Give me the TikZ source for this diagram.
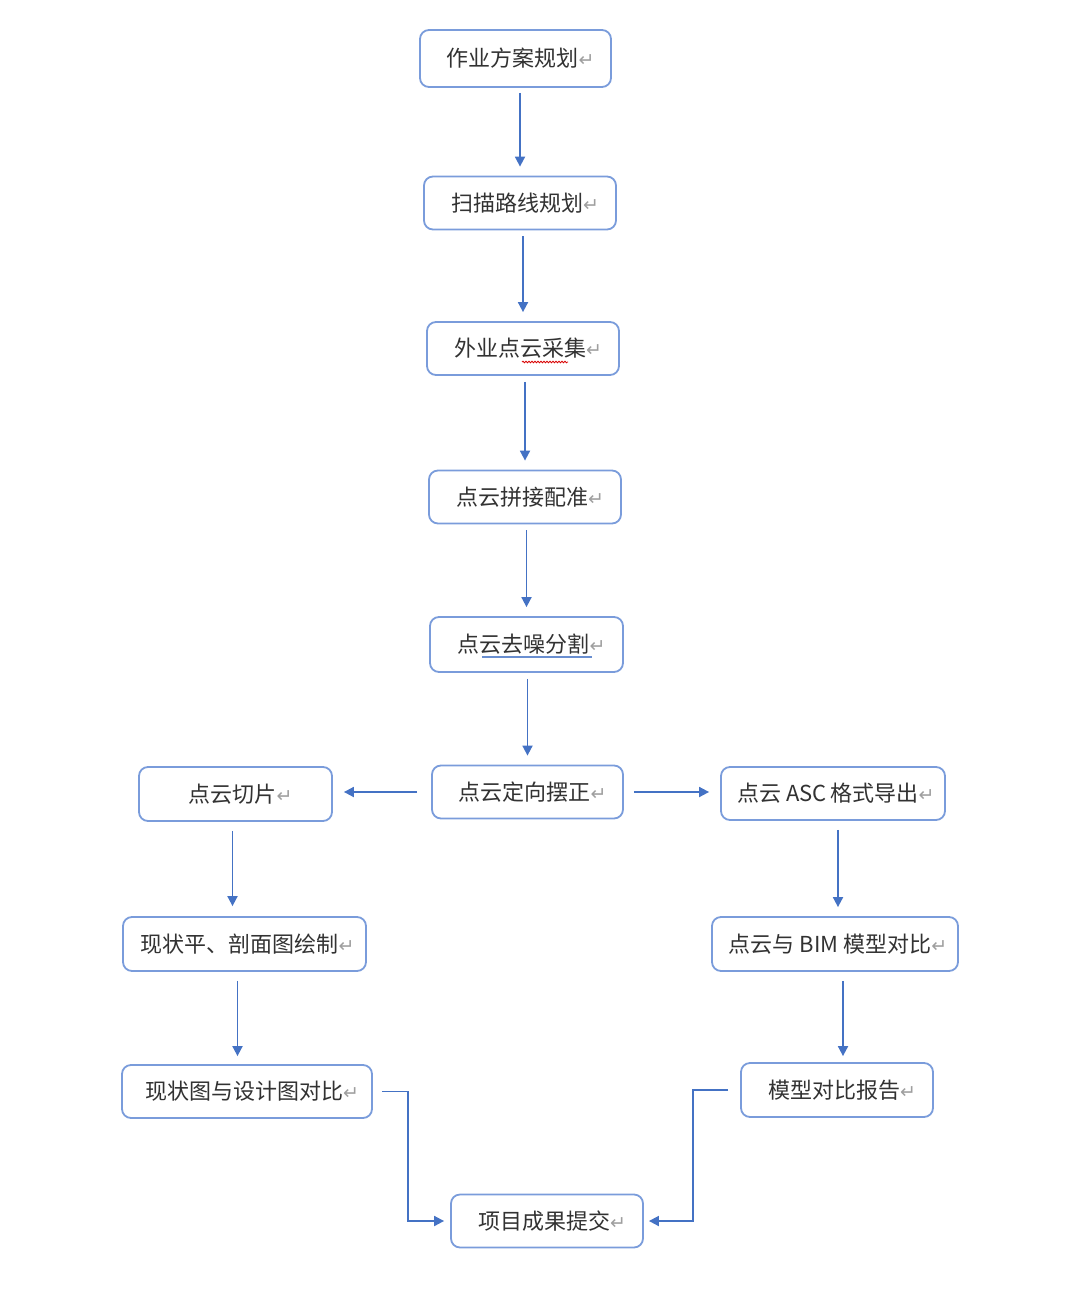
\documentclass[tikz,border=0pt]{standalone}
\usepackage{fontspec}
\setmainfont{Noto Sans CJK SC}
\newfontfamily\symfont{DejaVu Sans}
\usetikzlibrary{arrows.meta,calc,decorations.pathmorphing}
\definecolor{boxblue}{RGB}{122,156,219}
\definecolor{lineblue}{RGB}{68,114,196}
\definecolor{txtgray}{RGB}{50,50,50}
\newcommand{\parmark}{{\symfont\fontsize{19}{19}\selectfont\color{gray!75}↵}}
\begin{document}
\begin{tikzpicture}[x=1pt,y=-1pt,
  box/.style={draw=boxblue, line width=1.8pt, rounded corners=9pt, fill=white,
    text=txtgray, font=\fontsize{22}{24}\selectfont, inner sep=0pt,
    minimum height=#1},
  box/.default=53pt,
  flow/.style={draw=lineblue, line width=1.8pt, -{Triangle[length=10pt,width=10pt]}}]
\useasboundingbox (0,0) rectangle (1081,1289);
\node[box=57pt, minimum width=191pt] (n1) at (515.5,58.5) {\hspace{10pt}作业方案规划\parmark};
\node[box, minimum width=192pt] (n2) at (520,203) {\hspace{10pt}扫描路线规划\parmark};
\node[box, minimum width=192pt] (n3) at (523,348.5) {\hspace{10pt}外业点云采集\parmark};
\node[box, minimum width=192pt] (n4) at (525,497) {\hspace{10pt}点云拼接配准\parmark};
\node[box=55pt, minimum width=193pt] (n5) at (526.5,644.5) {\hspace{10pt}点云去噪分割\parmark};
\node[box, minimum width=191pt] (n6) at (527.5,792) {\hspace{10pt}点云定向摆正\parmark};
\node[box=54pt, minimum width=193pt] (n7) at (235.5,794) {\hspace{10pt}点云切片\parmark};
\node[box, minimum width=224pt] (n8) at (833,793.5) {\hspace{6pt}点云 ASC\,格式导出\parmark};
\node[box=54pt, minimum width=243pt] (n9) at (244.5,944) {\hspace{6pt}现状平、剖面图绘制\parmark};
\node[box=54pt, minimum width=246pt] (n10) at (835,944) {\hspace{6pt}点云与 BIM 模型对比\parmark};
\node[box, minimum width=250pt] (n11) at (247,1091.5) {\hspace{10pt}现状图与设计图对比\parmark};
\node[box=54pt, minimum width=192pt] (n12) at (837,1090) {\hspace{10pt}模型对比报告\parmark};
\node[box, minimum width=192pt] (n13) at (547,1221) {\hspace{10pt}项目成果提交\parmark};
% spell-check marks
\draw[red!85!black, line width=0.8pt, decorate, decoration={snake, amplitude=0.8pt, segment length=3pt}] (522,362) -- (568,362);
\draw[lineblue!80, line width=1.2pt] (482,657) -- (592,657);
% vertical chain
\draw[flow, shorten <=5pt, shorten >=9pt] (n1.south -| n2.north) -- (n2.north);
\draw[flow, shorten <=6pt, shorten >=9pt] (n2.south -| n3.north) -- (n3.north);
\draw[flow, shorten <=6pt, shorten >=9pt] (n3.south -| n4.north) -- (n4.north);
\draw[flow, shorten <=6pt, shorten >=9pt] (n4.south -| n5.north) -- (n5.north);
\draw[flow, shorten <=6pt, shorten >=9pt] (n5.south -| n6.north) -- (n6.north);
% split
\draw[flow, shorten <=14pt, shorten >=11pt] (n6.west) -- (n6.west -| n7.east);
\draw[flow, shorten <=10pt, shorten >=11pt] (n6.east) -- (n6.east -| n8.west);
% left branch
\draw[flow, shorten <=9pt, shorten >=10pt] ([xshift=-3pt]n7.south) -- ([xshift=-3pt]n7.south |- n9.north);
\draw[flow, shorten <=9pt, shorten >=8pt] ([xshift=-7pt]n9.south) -- ([xshift=-7pt]n9.south |- n11.north);
% right branch
\draw[flow, shorten <=9pt, shorten >=9pt] ([xshift=5pt]n8.south) -- ([xshift=5pt]n8.south |- n10.north);
\draw[flow, shorten <=9pt, shorten >=6pt] ([xshift=8pt]n10.south) -- ([xshift=8pt]n10.south |- n12.north);
% merge
\draw[flow, shorten <=9pt, shorten >=6pt] (n11.east) -- ++(35,0) |- (n13.west);
\draw[flow, shorten <=12pt, shorten >=5pt] (n12.west) -- ++(-47,0) |- (n13.east);
\end{tikzpicture}
\end{document}
